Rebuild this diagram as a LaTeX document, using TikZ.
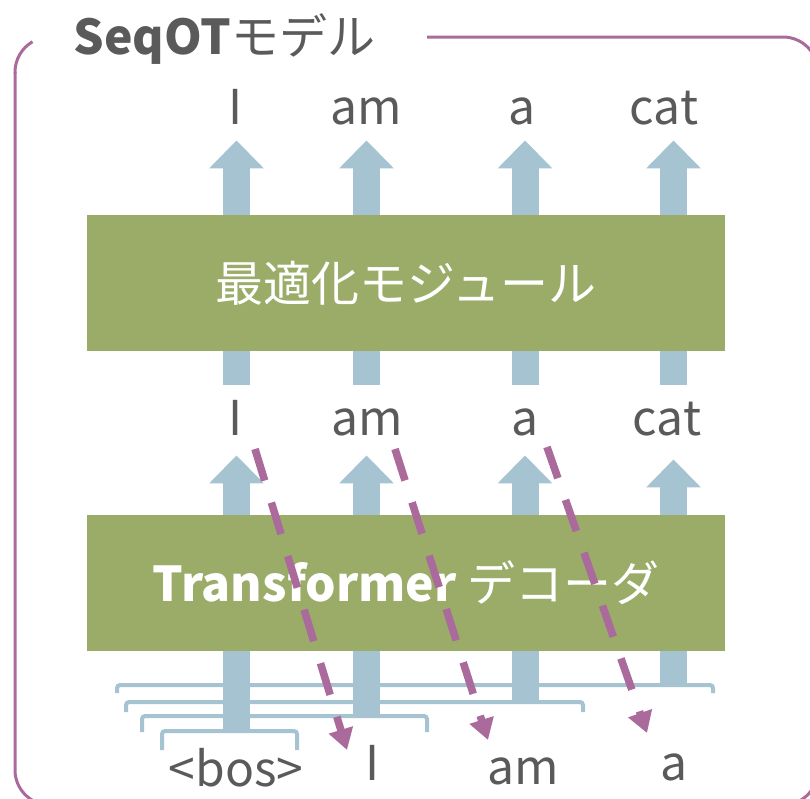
\documentclass[tikz,border=0pt]{standalone}
\usepackage{fontspec}
\setmainfont{Noto Sans CJK JP}
\usepackage{tikz}
\usetikzlibrary{arrows.meta,calc}
\definecolor{frm}{HTML}{AB6A9C}
\definecolor{grn}{HTML}{9AAC68}
\definecolor{blu}{HTML}{A5C3D1}
\definecolor{txt}{HTML}{5A5A5A}
\tikzset{
  tok/.style={font=\fontsize{24}{24}\selectfont,text=txt,inner sep=0pt,text height=18pt,text depth=0pt,anchor=base},
  blk/.style={fill=grn,text=white,font=\fontsize{24}{24}\selectfont,inner sep=0pt,minimum width=319pt,minimum height=68pt},
  fat/.style={draw=blu,line width=13.5pt,-{Triangle[length=14pt,width=26.5pt]}},
  brk/.style={draw=blu,line width=2pt,rounded corners=1.5pt},
  fb/.style={draw=frm,line width=3.8pt,dash pattern=on 16.5pt off 11.5pt,-{Triangle[length=10.5pt,width=12pt]}},
}
\begin{document}
\begin{tikzpicture}[x=0.5pt,y=-0.5pt]
\useasboundingbox (0,0) rectangle (810,799);
% frame with title
\draw[draw=frm,line width=1.5pt,rounded corners=17.5pt] (427,37) -- (818,37) -- (818,805) -- (15,805) -- (15,72);
\draw[draw=frm,line width=1.5pt] (15,73) -- (15,72) .. controls (15,59.5) and (21.7,48) .. (32.5,41.7);
\node[tok,anchor=base west,text=txt] (ttl) at (73,54) {\textbf{SeqOT}モデル};
% tokens
\node[tok] (t1) at (236,124) {I}; \node[tok] (t2) at (366,124) {am}; \node[tok] (t3) at (522,124) {a}; \node[tok] (t4) at (664,124) {cat};
\node[tok] (m1) at (236,435) {I}; \node[tok] (m2) at (367,435) {am}; \node[tok] (m3) at (525,435) {a}; \node[tok] (m4) at (667,435) {cat};
\node[tok] (b0) at (236,786) {<bos>}; \node[tok] (b1) at (373,780) {I}; \node[tok] (b2) at (523,784) {am}; \node[tok] (b3) at (674,780) {a};
% prefix brackets
\draw[brk] (117,693) -- (117,685) -- (713,685) -- (713,693);
\draw[brk] (126,712) -- (126,702) -- (583,702) -- (583,712);
\draw[brk] (142,732) -- (142,716) -- (427,716) -- (427,732);
\draw[brk] (162,750) -- (162,731) -- (297,731) -- (297,750);
\coordinate (k1) at (236.5,731); \coordinate (k2) at (366.5,716); \coordinate (k3) at (525,702); \coordinate (k4) at (673.5,685);
% columns
\draw[fat,shorten >=10pt] (k1) -- (m1.south -| k1); \draw[fat,shorten >=10pt] (k2) -- (m2.south -| k2);
\draw[fat,shorten >=10pt] (k3) -- (m3.south -| k3); \draw[fat,shorten >=12pt] (k4) -- (m4.south -| k4);
\draw[fat,shorten <=7pt,shorten >=8pt] (m1.north -| k1) -- (t1.south -| k1); \draw[fat,shorten <=7pt,shorten >=8pt] (m2.north -| k2) -- (t2.south -| k2);
\draw[fat,shorten <=7pt,shorten >=8pt] (m3.north -| k3) -- (t3.south -| k3); \draw[fat,shorten <=7pt,shorten >=8pt] (m4.north -| k4) -- (t4.south -| k4);
% blocks
\node[blk] (opt) at (406,283) {最適化モジュール};
\node[blk] (dec) at (406,583) {\textbf{Transformer} デコーダ};
% feedback
\coordinate (s1) at (255,449); \coordinate (e1) at (347,750);
\coordinate (s2) at (395,449); \coordinate (e2) at (488,740);
\coordinate (s3) at (547,447); \coordinate (e3) at (647,733);
\draw[fb] (s1) -- (e1); \draw[fb] (s2) -- (e2); \draw[fb] (s3) -- (e3);
\end{tikzpicture}
\end{document}
